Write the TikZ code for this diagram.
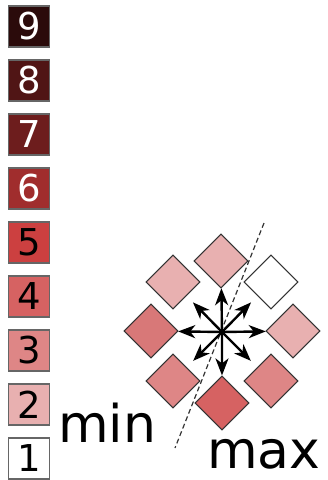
\documentclass[tikz,border=0pt]{standalone}
\usepackage{fontspec}
\setmainfont{DejaVu Sans}
\usetikzlibrary{arrows.meta}
\definecolor{c1}{HTML}{FFFFFF}
\definecolor{c2}{HTML}{E8B0B0}
\definecolor{c3}{HTML}{DE8686}
\definecolor{c4}{HTML}{D66262}
\definecolor{c5}{HTML}{CC4040}
\definecolor{c6}{HTML}{A02D2D}
\definecolor{c7}{HTML}{6D1D1D}
\definecolor{c8}{HTML}{501515}
\definecolor{c9}{HTML}{2B0B0B}
\definecolor{cleft}{HTML}{D87878}
\tikzset{
  key/.style={draw=black!60,line width=1.3pt,minimum size=41pt,inner sep=0pt},
  cell/.style={draw=black!80,line width=1pt,minimum size=38pt,inner sep=0pt,rotate=45},
  move/.style={-{Stealth[length=17pt,width=13pt,inset=5pt]},line width=2.4pt},
}
\begin{document}
\begin{tikzpicture}[x=1pt,y=-1pt]
\useasboundingbox (0,0) rectangle (328,480);
% legend
\foreach \n/\txt in {9/white,8/white,7/white,6/white,5/black,4/black,3/black,2/black,1/black}
  \node[key,fill=c\n,text=\txt,font=\fontsize{37}{37}\selectfont] (l\n) at (29,{26.5+54*(9-\n)}) {\n};
% neighbourhood
\coordinate (c) at (222,332);
\node[cell,fill=c2] (n) at (221,261) {};
\node[cell,fill=c1] (ne) at (271,282) {};
\node[cell,fill=c2] (e) at (293,331) {};
\node[cell,fill=c3] (se) at (271,381) {};
\node[cell,fill=c4] (s) at (222,403) {};
\node[cell,fill=c3] (sw) at (173,381) {};
\node[cell,fill=cleft] (w) at (151,331) {};
\node[cell,fill=c2] (nw) at (173,282) {};
\coordinate (d1) at (264,223);
\coordinate (d2) at (175,448);
\draw[black!80,line width=1.2pt,dash pattern=on 5pt off 3pt] (d1)--(d2);
\foreach \m in {n,e,s,w} \draw[move] (c)--(\m);
\foreach \m in {ne,se,sw,nw} \draw[move,shorten >=9pt] (c)--(\m);
\node[font=\fontsize{52}{52}\selectfont,anchor=base west,inner sep=0pt] (min) at (58,442) {min};
\node[font=\fontsize{52}{52}\selectfont,anchor=base west,inner sep=0pt] (max) at (207,468) {max};
\end{tikzpicture}
\end{document}
